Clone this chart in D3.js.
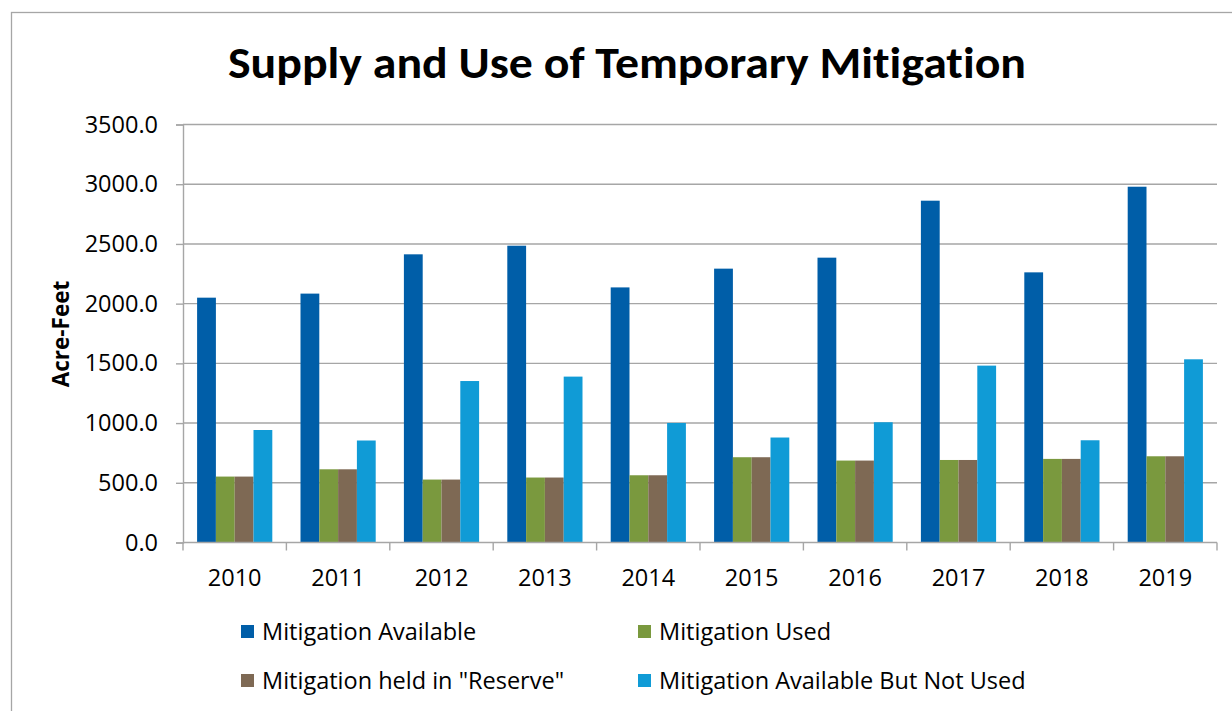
<!DOCTYPE html>
<html>
<head>
<meta charset="utf-8">
<script src="https://cdn.jsdelivr.net/npm/d3@7"></script>
<style>
  body { margin: 0; background: #ffffff; }
  svg { display: block; }
  text { font-family: "Open Sans", Carlito, Lato, sans-serif; fill: #000; font-variant-ligatures: none; }
  text.title { font-family: Carlito, Lato, sans-serif; }
</style>
</head>
<body>
<div id="chart"></div>
<script>
// values
const years = ["2010", "2011", "2012", "2013", "2014", "2015", "2016", "2017", "2018", "2019"];
const available = [2050, 2084, 2413, 2485, 2136, 2293, 2385, 2862, 2262, 2979];
const used = [552, 613, 527, 544, 563, 714, 686, 691, 700, 722];
const reserve = [552, 613, 527, 544, 563, 714, 686, 691, 700, 722];
const notUsed = [942, 854, 1352, 1389, 1001, 879, 1007, 1481, 856, 1534];
const yTicks = [0, 500, 1000, 1500, 2000, 2500, 3000, 3500];

const seriesNames = ["Mitigation Available", "Mitigation Used", "Mitigation held in \"Reserve\"", "Mitigation Available But Not Used"];
const seriesValues = [available, used, reserve, notUsed];
const colors = ["#005ea8", "#7a993e", "#7e6954", "#109bd6"];

const width = 1232, height = 711;
const plot = { left: 183, right: 1217, top: 124.5, bottom: 542.5 };

const svg = d3.select("#chart").append("svg")
  .attr("width", width)
  .attr("height", height);

// outer chart frame
svg.append("rect")
  .attr("x", 11.5).attr("y", 12.5)
  .attr("width", 1240).attr("height", 720)
  .attr("fill", "none")
  .attr("stroke", "#a6a6a6")
  .attr("stroke-width", 1.3);

svg.append("text")
  .attr("class", "title")
  .attr("x", 627).attr("y", 78)
  .attr("text-anchor", "middle")
  .attr("font-size", 44)
  .attr("font-weight", "bold")
  .attr("textLength", 798)
  .attr("lengthAdjust", "spacingAndGlyphs")
  .text("Supply and Use of Temporary Mitigation");

const x = d3.scaleBand().domain(years).range([plot.left, plot.right]).paddingInner(0).paddingOuter(0);
const y = d3.scaleLinear().domain([0, 3500]).range([plot.bottom, plot.top]);

// bars: gap width 150% like the original
const barW = x.bandwidth() / 5.5;
const xs = d3.scaleBand().domain(d3.range(4))
  .range([x.bandwidth() * 0.75 / 5.5, x.bandwidth() * 4.75 / 5.5]);

// gridlines
svg.append("g").selectAll("line")
  .data(yTicks.filter(d => d > 0))
  .join("line")
  .attr("x1", plot.left).attr("x2", plot.right)
  .attr("y1", d => y(d)).attr("y2", d => y(d))
  .attr("stroke", "#a6a6a6")
  .attr("stroke-width", 1.4);

const groups = svg.append("g").selectAll("g")
  .data(years)
  .join("g")
  .attr("transform", d => `translate(${x(d)},0)`);

groups.selectAll("rect")
  .data((d, i) => seriesValues.map((s, k) => ({ k: k, v: s[i] })))
  .join("rect")
  .attr("x", d => xs(d.k))
  .attr("width", barW)
  .attr("y", d => y(d.v))
  .attr("height", d => y(0) - y(d.v))
  .attr("fill", d => colors[d.k]);

// y axis
const yAxis = svg.append("g")
  .attr("transform", `translate(${plot.left},0)`)
  .call(d3.axisLeft(y).tickValues(yTicks).tickFormat(d3.format(".1f")).tickSize(7).tickPadding(18));
yAxis.select(".domain").attr("stroke", "#a6a6a6").attr("stroke-width", 1.4);
yAxis.selectAll(".tick line").attr("stroke", "#a6a6a6").attr("stroke-width", 1.4);
yAxis.selectAll(".tick text").attr("font-size", 23.5).attr("font-family", null);

// x axis with ticks at band edges
const xAxis = svg.append("g")
  .attr("transform", `translate(0,${plot.bottom})`);
xAxis.append("line")
  .attr("x1", plot.left).attr("x2", plot.right)
  .attr("stroke", "#a6a6a6").attr("stroke-width", 1.4);
xAxis.selectAll("line.tk")
  .data(years.map(d => x(d)).concat([plot.right]))
  .join("line")
  .attr("class", "tk")
  .attr("x1", d => d).attr("x2", d => d)
  .attr("y1", 0).attr("y2", 8)
  .attr("stroke", "#a6a6a6").attr("stroke-width", 1.4);
xAxis.selectAll("text")
  .data(years)
  .join("text")
  .attr("x", d => x(d) + x.bandwidth() / 2)
  .attr("y", 43)
  .attr("text-anchor", "middle")
  .attr("font-size", 23.5)
  .text(d => d);

svg.append("text")
  .attr("transform", "translate(69,334) rotate(-90)")
  .attr("text-anchor", "middle")
  .attr("font-size", 22.5)
  .attr("font-weight", "bold")
  .text("Acre-Feet");

// legend, two columns
const legend = svg.append("g").selectAll("g")
  .data(seriesNames)
  .join("g")
  .attr("transform", (d, i) => `translate(${i % 2 === 0 ? 241 : 638},${i < 2 ? 632 : 681})`);
legend.append("rect")
  .attr("x", 0).attr("y", -7)
  .attr("width", 13).attr("height", 13)
  .attr("fill", (d, i) => colors[i]);
legend.append("text")
  .attr("x", 21).attr("y", 8)
  .attr("font-size", 23.5)
  .text(d => d);
</script>
</body>
</html>
